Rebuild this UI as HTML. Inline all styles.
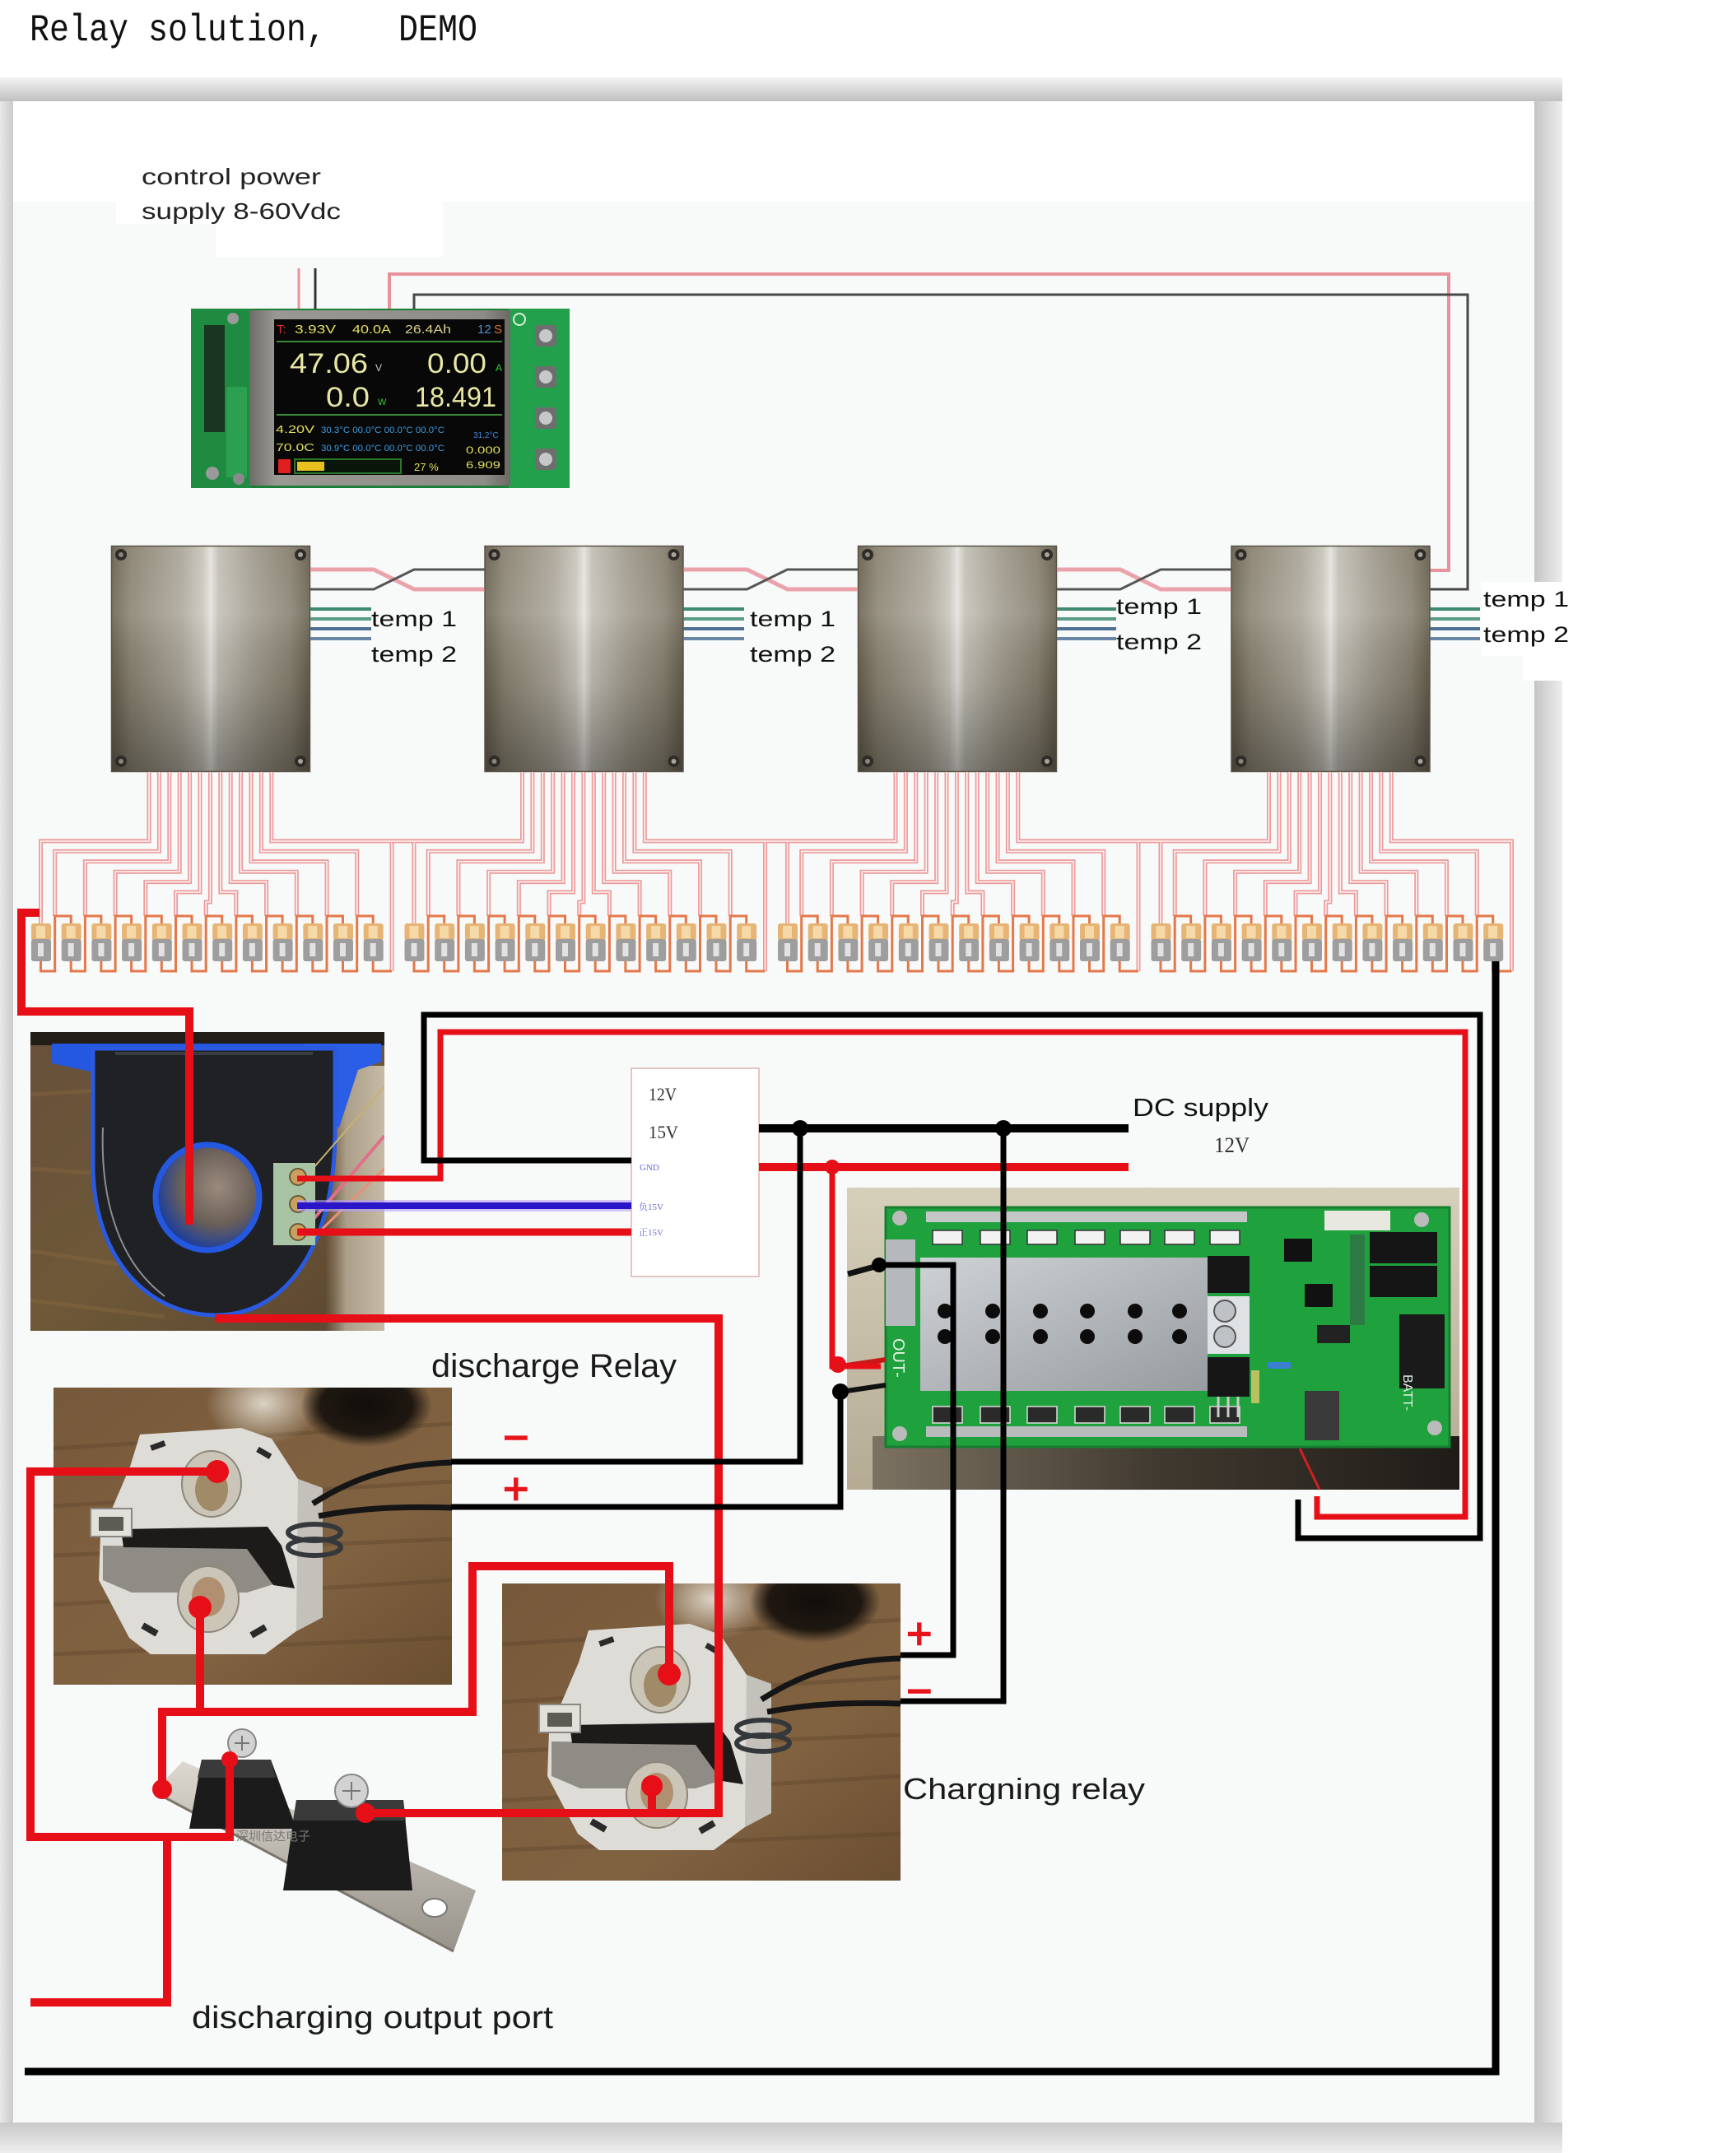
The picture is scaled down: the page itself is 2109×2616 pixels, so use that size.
<!DOCTYPE html>
<html><head><meta charset="utf-8">
<style>
html,body{margin:0;padding:0;background:#fff;}
svg{display:block;}
</style></head><body>
<svg xmlns="http://www.w3.org/2000/svg" xmlns:xlink="http://www.w3.org/1999/xlink" width="2109" height="2616" viewBox="0 0 2109 2616" font-family="Liberation Sans, sans-serif">
<defs>
 <linearGradient id="gTop" x1="0" y1="0" x2="0" y2="1"><stop offset="0" stop-color="#f3f3f3"/><stop offset="1" stop-color="#c0c0c0"/></linearGradient>
 <linearGradient id="gLeft" x1="0" y1="0" x2="1" y2="0"><stop offset="0" stop-color="#e8e8e8"/><stop offset="1" stop-color="#cbcbcb"/></linearGradient>
 <linearGradient id="gRight" x1="0" y1="0" x2="1" y2="0"><stop offset="0" stop-color="#c4c4c4"/><stop offset="1" stop-color="#eeeeee"/></linearGradient>
 <linearGradient id="gBot" x1="0" y1="0" x2="0" y2="1"><stop offset="0" stop-color="#c8c8c8"/><stop offset="1" stop-color="#ededed"/></linearGradient>
 <linearGradient id="metalH" x1="0" y1="0" x2="1" y2="0">
   <stop offset="0" stop-color="#676050"/><stop offset="0.1" stop-color="#8a8372"/><stop offset="0.35" stop-color="#aba699"/><stop offset="0.46" stop-color="#c8c5bc"/><stop offset="0.5" stop-color="#e4e2dc"/><stop offset="0.54" stop-color="#c2bfb6"/><stop offset="0.72" stop-color="#a09b8d"/><stop offset="0.9" stop-color="#878070"/><stop offset="1" stop-color="#655e4e"/>
 </linearGradient>
 <linearGradient id="metalV" x1="0" y1="0" x2="0" y2="1">
   <stop offset="0" stop-color="#fff" stop-opacity="0.05"/><stop offset="0.3" stop-color="#fff" stop-opacity="0.12"/><stop offset="0.6" stop-color="#000" stop-opacity="0.08"/><stop offset="1" stop-color="#000" stop-opacity="0.35"/>
 </linearGradient>
 <linearGradient id="wood" x1="0" y1="0" x2="1" y2="1">
   <stop offset="0" stop-color="#76583a"/><stop offset="0.35" stop-color="#7e6040"/><stop offset="0.65" stop-color="#806241"/><stop offset="1" stop-color="#6a4e30"/>
 </linearGradient>
 <linearGradient id="wood2" x1="0" y1="0" x2="1" y2="1">
   <stop offset="0" stop-color="#67503a"/><stop offset="0.5" stop-color="#6e5838"/><stop offset="1" stop-color="#5a4630"/>
 </linearGradient>
 <linearGradient id="sensR" x1="0" y1="0" x2="1" y2="0">
   <stop offset="0" stop-color="#9a8c74" stop-opacity="0"/><stop offset="0.35" stop-color="#ab9f8a"/><stop offset="1" stop-color="#c6bba6"/>
 </linearGradient>
 <radialGradient id="holeG" cx="0.6" cy="0.4" r="0.6">
   <stop offset="0" stop-color="#9a8a7c"/><stop offset="0.6" stop-color="#6a5f58"/><stop offset="1" stop-color="#1f3f9a"/>
 </radialGradient>
 <radialGradient id="glare" cx="0.5" cy="0.5" r="0.5">
   <stop offset="0" stop-color="#e6e0d4" stop-opacity="0.9"/><stop offset="1" stop-color="#e6e0d4" stop-opacity="0"/>
 </radialGradient>
 <radialGradient id="blob" cx="0.5" cy="0.5" r="0.5">
   <stop offset="0" stop-color="#110d0a"/><stop offset="0.7" stop-color="#1a140f" stop-opacity="0.95"/><stop offset="1" stop-color="#1a140f" stop-opacity="0"/>
 </radialGradient>
 <linearGradient id="beige" x1="0" y1="0" x2="0" y2="1">
   <stop offset="0" stop-color="#d6cfba"/><stop offset="1" stop-color="#b5ab94"/>
 </linearGradient>
 <linearGradient id="pcbSh" x1="0" y1="0" x2="1" y2="0">
   <stop offset="0" stop-color="#7c7262"/><stop offset="0.5" stop-color="#3f382e"/><stop offset="1" stop-color="#1f1c18"/>
 </linearGradient>
 <linearGradient id="heat" x1="0" y1="0" x2="1" y2="1">
   <stop offset="0" stop-color="#cfd2d5"/><stop offset="0.5" stop-color="#b3b7bb"/><stop offset="1" stop-color="#979ca1"/>
 </linearGradient>
 <linearGradient id="frame" x1="0" y1="0" x2="1" y2="0">
   <stop offset="0" stop-color="#6d6b66"/><stop offset="0.1" stop-color="#9a9892"/><stop offset="0.9" stop-color="#8e8c86"/><stop offset="1" stop-color="#6a6863"/>
 </linearGradient>
 <linearGradient id="shuntG" x1="0" y1="0" x2="0" y2="1">
   <stop offset="0" stop-color="#dcd8d0"/><stop offset="1" stop-color="#98938a"/>
 </linearGradient>
 <clipPath id="relClip"><rect x="65" y="1686" width="484" height="361"/></clipPath>
 <clipPath id="sensClip"><rect x="37" y="1254" width="430" height="363"/></clipPath>

 <g id="bms">
   <rect width="242" height="275" fill="url(#metalH)"/>
   <rect width="242" height="275" fill="url(#metalV)"/>
   <rect x="0.5" y="0.5" width="241" height="274" fill="none" stroke="#5a5548" stroke-width="1.5"/>
   <circle cx="12" cy="11" r="7" fill="#2f2c28"/><circle cx="12" cy="11" r="3" fill="#8a857c"/>
   <circle cx="230" cy="11" r="7" fill="#2f2c28"/><circle cx="230" cy="11" r="3" fill="#a9a49a"/>
   <circle cx="12" cy="262" r="7" fill="#2f2c28"/><circle cx="12" cy="262" r="3" fill="#8a857c"/>
   <circle cx="230" cy="262" r="7" fill="#2f2c28"/><circle cx="230" cy="262" r="3" fill="#a9a49a"/>
 </g>

 <g id="cell">
   <rect width="24" height="21" rx="3" fill="#e6b474"/>
   <rect x="6" y="3" width="11" height="15" fill="#f6d9a8"/>
   <rect y="19" width="24" height="27" rx="3" fill="#9e9e9e"/>
   <rect x="8" y="24" width="7" height="16" fill="#e2e2e2"/>
 </g>

 <g id="cellgroup">
   <g fill="none" stroke="#ec9a9a" stroke-width="5">
     <path d="M181,938V1022H49.5V1122"/>
     <path d="M193.4,938V1034.4H66.7V1113"/>
     <path d="M205.8,938V1046.8H103.4V1113"/>
     <path d="M218.2,938V1059.2H140.1V1113"/>
     <path d="M230.6,938V1071.6H176.8V1113"/>
     <path d="M243,938V1084H213.5V1113"/>
     <path d="M255.4,938V1096H250.2V1113"/>
     <path d="M267.8,938V1084H286.9V1113"/>
     <path d="M280.2,938V1071.6H323.6V1113"/>
     <path d="M292.6,938V1059.2H360.3V1113"/>
     <path d="M305,938V1046.8H397V1113"/>
     <path d="M317.4,938V1034.4H433.7V1113"/>
     <path d="M329.8,938V1022H476V1180"/>
   </g>
   <g fill="none" stroke="#fdf4f4" stroke-width="1.6">
     <path d="M181,938V1022H49.5V1122"/>
     <path d="M193.4,938V1034.4H66.7V1113"/>
     <path d="M205.8,938V1046.8H103.4V1113"/>
     <path d="M218.2,938V1059.2H140.1V1113"/>
     <path d="M230.6,938V1071.6H176.8V1113"/>
     <path d="M243,938V1084H213.5V1113"/>
     <path d="M255.4,938V1096H250.2V1113"/>
     <path d="M267.8,938V1084H286.9V1113"/>
     <path d="M280.2,938V1071.6H323.6V1113"/>
     <path d="M292.6,938V1059.2H360.3V1113"/>
     <path d="M305,938V1046.8H397V1113"/>
     <path d="M317.4,938V1034.4H433.7V1113"/>
     <path d="M329.8,938V1022H476V1180"/>
   </g>
   <path fill="none" stroke="#e4784a" stroke-width="3" d="M49.5,1168V1180H66.7V1113H86.2V1122 M86.2,1168V1180H103.4V1113H122.9V1122 M122.9,1168V1180H140.1V1113H159.6V1122 M159.6,1168V1180H176.8V1113H196.3V1122 M196.3,1168V1180H213.5V1113H233V1122 M233,1168V1180H250.2V1113H269.7V1122 M269.7,1168V1180H286.9V1113H306.4V1122 M306.4,1168V1180H323.6V1113H343.1V1122 M343.1,1168V1180H360.3V1113H379.8V1122 M379.8,1168V1180H397V1113H416.5V1122 M416.5,1168V1180H433.7V1113H453.2V1122 M453.2,1168V1180H476"/>
   <use xlink:href="#cell" x="38" y="1122"/>
   <use xlink:href="#cell" x="74.7" y="1122"/>
   <use xlink:href="#cell" x="111.4" y="1122"/>
   <use xlink:href="#cell" x="148.1" y="1122"/>
   <use xlink:href="#cell" x="184.8" y="1122"/>
   <use xlink:href="#cell" x="221.5" y="1122"/>
   <use xlink:href="#cell" x="258.2" y="1122"/>
   <use xlink:href="#cell" x="294.9" y="1122"/>
   <use xlink:href="#cell" x="331.6" y="1122"/>
   <use xlink:href="#cell" x="368.3" y="1122"/>
   <use xlink:href="#cell" x="405" y="1122"/>
   <use xlink:href="#cell" x="441.7" y="1122"/>
 </g>

 <g id="relay">
   <g clip-path="url(#relClip)">
     <rect x="65" y="1686" width="484" height="361" fill="url(#wood)"/>
     <path d="M65,1760 L549,1730 M65,1830 L549,1800 M65,1950 L549,1920 M65,2010 L549,1990 M65,1890 L549,1870" stroke="#5a4128" stroke-width="5" opacity="0.35"/>
     <ellipse cx="320" cy="1705" rx="70" ry="50" fill="url(#glare)"/>
     <ellipse cx="445" cy="1708" rx="80" ry="50" fill="url(#blob)"/>
   </g>
   <polygon points="170,1743 293,1735 330,1748 362,1797 392,1808 392,1965 360,1982 322,2010 183,2010 157,1990 120,1920 122,1866 158,1782" fill="#dedcd7"/>
   <polygon points="362,1797 392,1808 392,1965 360,1982" fill="#c4c1bb"/>
   <polygon points="125,1878 300,1880 332,1925 300,1935 160,1935 125,1920" fill="#8f8c86"/>
   <polygon points="147,1858 325,1855 342,1878 358,1930 332,1926 300,1882 150,1880" fill="#1c1b19"/>
   <rect x="110" y="1833" width="50" height="34" fill="#e2e0db" stroke="#8a8781" stroke-width="2"/>
   <rect x="120" y="1843" width="30" height="17" fill="#5e5b55"/>
   <ellipse cx="257" cy="1803" rx="36" ry="40" fill="#cbc5b8" stroke="#8d877b" stroke-width="2"/>
   <ellipse cx="257" cy="1810" rx="20" ry="26" fill="#a08a68"/>
   <ellipse cx="253" cy="1943" rx="37" ry="40" fill="#cbc5b8" stroke="#8d877b" stroke-width="2"/>
   <ellipse cx="253" cy="1940" rx="20" ry="24" fill="#b09070"/>
   <rect x="183" y="1753" width="18" height="7" fill="#2a2a2a" transform="rotate(-20 192 1757)"/>
   <rect x="312" y="1762" width="18" height="7" fill="#2a2a2a" transform="rotate(30 321 1765)"/>
   <rect x="172" y="1976" width="20" height="8" fill="#2a2a2a" transform="rotate(30 182 1980)"/>
   <rect x="304" y="1978" width="20" height="8" fill="#2a2a2a" transform="rotate(-30 314 1982)"/>
   <g fill="none" stroke="#35383b" stroke-width="6">
     <ellipse cx="382" cy="1862" rx="32" ry="10"/>
     <ellipse cx="382" cy="1880" rx="32" ry="10"/>
   </g>
   <path d="M380,1827 C430,1795 480,1779 549,1777" stroke="#151515" stroke-width="7" fill="none"/>
   <path d="M387,1842 C440,1832 490,1830 549,1832" stroke="#151515" stroke-width="7" fill="none"/>
 </g>
</defs>

<!-- page / panel -->
<rect width="2109" height="2616" fill="#fff"/>
<rect x="0" y="94" width="1898" height="2522" fill="#e8e8e8"/>
<rect x="0" y="94" width="1898" height="29" fill="url(#gTop)"/>
<rect x="0" y="123" width="16" height="2493" fill="url(#gLeft)"/>
<rect x="1864" y="123" width="34" height="2493" fill="url(#gRight)"/>
<rect x="0" y="2579" width="1898" height="37" fill="url(#gBot)"/>
<rect x="16" y="123" width="1848" height="2456" fill="#f8f9f9"/>
<rect x="16" y="123" width="1848" height="122" fill="#fff"/>
<rect x="141" y="187" width="262" height="85" fill="#fff"/>
<rect x="262" y="241" width="276" height="71" fill="#fff"/>
<rect x="1800" y="707" width="110" height="90" fill="#fff"/>
<rect x="1850" y="796" width="60" height="31" fill="#fff"/>

<!-- title -->
<text transform="translate(36,49) scale(1,1.16)" font-family="Liberation Mono, monospace" font-size="40" fill="#111">Relay solution,</text>
<text transform="translate(484,49) scale(1,1.16)" font-family="Liberation Mono, monospace" font-size="40" fill="#111">DEMO</text>

<text x="172" y="224" font-size="28" fill="#222" textLength="218" lengthAdjust="spacingAndGlyphs">control power</text>
<text x="172" y="266" font-size="28" fill="#222" textLength="242" lengthAdjust="spacingAndGlyphs">supply 8-60Vdc</text>

<!-- top control wires -->
<path d="M363,326V377" stroke="#e8939c" stroke-width="3" fill="none"/>
<path d="M383,326V377" stroke="#333" stroke-width="3" fill="none"/>
<path d="M473,377V333H1760V693H1736" stroke="#e8939c" stroke-width="4" fill="none"/>
<path d="M503,377V358H1783V716H1736" stroke="#474747" stroke-width="3" fill="none"/>

<!-- BMS display photo -->
<rect x="232" y="375" width="460" height="218" fill="#1c7e38"/>
<rect x="232" y="375" width="73" height="218" fill="#1f8b40"/>
<rect x="248" y="395" width="25" height="130" fill="#1a1a1a" opacity="0.75"/>
<rect x="275" y="470" width="25" height="110" fill="#2aa050"/>
<circle cx="258" cy="575" r="8" fill="#9a9a9a"/><circle cx="290" cy="582" r="7" fill="#8a8a8a"/><circle cx="283" cy="387" r="7" fill="#9a9a9a"/>
<rect x="618" y="375" width="74" height="218" fill="#23a04c"/>
<rect x="650" y="395" width="26" height="26" rx="4" fill="#6e6e6e"/><circle cx="663" cy="408" r="8" fill="#c8c8c8"/>
<rect x="650" y="445" width="26" height="26" rx="4" fill="#6e6e6e"/><circle cx="663" cy="458" r="8" fill="#c8c8c8"/>
<rect x="650" y="495" width="26" height="26" rx="4" fill="#6e6e6e"/><circle cx="663" cy="508" r="8" fill="#c8c8c8"/>
<rect x="650" y="545" width="26" height="26" rx="4" fill="#6e6e6e"/><circle cx="663" cy="558" r="8" fill="#c8c8c8"/>
<circle cx="631" cy="388" r="7" fill="none" stroke="#d8f0d8" stroke-width="2"/>
<rect x="303" y="377" width="317" height="213" fill="url(#frame)"/>
<rect x="333" y="388" width="280" height="189" fill="#070807"/>
<text x="336" y="405" font-size="15" fill="#e03030">T:</text>
<text x="358" y="405" font-size="15" fill="#e6df5c" textLength="50" lengthAdjust="spacingAndGlyphs">3.93V</text>
<text x="428" y="405" font-size="15" fill="#e6df5c" textLength="47" lengthAdjust="spacingAndGlyphs">40.0A</text>
<text x="492" y="405" font-size="15" fill="#d8d090" textLength="56" lengthAdjust="spacingAndGlyphs">26.4Ah</text>
<text x="580" y="405" font-size="15" fill="#4a90d0">12</text>
<text x="600" y="405" font-size="15" fill="#e07030">S</text>
<path d="M336,415H610 M336,504H610" stroke="#3a8a3a" stroke-width="2"/>
<text x="352" y="453" font-size="34" fill="#e8e6a4" textLength="95" lengthAdjust="spacingAndGlyphs">47.06</text>
<text x="456" y="451" font-size="12" fill="#cccccc">V</text>
<text x="519" y="453" font-size="34" fill="#e8e6a4" textLength="72" lengthAdjust="spacingAndGlyphs">0.00</text>
<text x="602" y="451" font-size="12" fill="#33cc33">A</text>
<text x="396" y="494" font-size="34" fill="#e8e6a4" textLength="53" lengthAdjust="spacingAndGlyphs">0.0</text>
<text x="459" y="492" font-size="11" fill="#33cc33">W</text>
<text x="504" y="494" font-size="34" fill="#e8e6a4" textLength="99" lengthAdjust="spacingAndGlyphs">18.491</text>
<text x="335" y="526" font-size="13" fill="#e6df5c" textLength="47" lengthAdjust="spacingAndGlyphs">4.20V</text>
<text x="390" y="526" font-size="11" fill="#3f9be0" textLength="150" lengthAdjust="spacingAndGlyphs">30.3°C 00.0°C 00.0°C 00.0°C</text>
<text x="335" y="548" font-size="13" fill="#e6df5c" textLength="47" lengthAdjust="spacingAndGlyphs">70.0C</text>
<text x="390" y="548" font-size="11" fill="#3f9be0" textLength="150" lengthAdjust="spacingAndGlyphs">30.9°C 00.0°C 00.0°C 00.0°C</text>
<text x="575" y="532" font-size="10" fill="#3f8be0">31.2°C</text>
<text x="566" y="551" font-size="12" fill="#e6df5c" textLength="42" lengthAdjust="spacingAndGlyphs">0.000</text>
<text x="566" y="569" font-size="12" fill="#e6df5c" textLength="42" lengthAdjust="spacingAndGlyphs">6.909</text>
<rect x="338" y="558" width="15" height="17" fill="#e02020"/>
<rect x="358" y="558" width="129" height="17" fill="#0a150a" stroke="#2a7a2a" stroke-width="2"/>
<rect x="361" y="561" width="33" height="11" fill="#e8c020"/>
<text x="503" y="572" font-size="13" fill="#e6df5c">27 %</text>

<!-- BMS boards -->
<use xlink:href="#bms" x="135" y="663"/>
<use xlink:href="#bms" x="588.5" y="663"/>
<use xlink:href="#bms" x="1042" y="663"/>
<use xlink:href="#bms" x="1495.5" y="663"/>

<!-- inter-board balance wires -->
<g fill="none">
  <path d="M377,692H454L503,716H588.5 M830.5,692H907.5L956.5,716H1042 M1284,692H1361L1410,716H1495.5" stroke="#eba3ab" stroke-width="5"/>
  <path d="M377,716H454L503,692H588.5 M830.5,716H907.5L956.5,692H1042 M1284,716H1361L1410,692H1495.5" stroke="#555" stroke-width="3"/>
</g>

<!-- temp wires -->
<g fill="none" stroke-width="4">
  <path d="M377,740H451 M830.5,740H904 M1284,740H1356 M1737.5,740H1798" stroke="#3f8a70"/>
  <path d="M377,752H451 M830.5,752H904 M1284,752H1356 M1737.5,752H1798" stroke="#5a9a86"/>
  <path d="M377,764H451 M830.5,764H904 M1284,764H1356 M1737.5,764H1798" stroke="#4f6f93"/>
  <path d="M377,776H451 M830.5,776H904 M1284,776H1356 M1737.5,776H1798" stroke="#6a86a6"/>
</g>
<g font-size="27" fill="#111">
  <text x="451" y="761" textLength="104" lengthAdjust="spacingAndGlyphs">temp 1</text>
  <text x="451" y="804" textLength="104" lengthAdjust="spacingAndGlyphs">temp 2</text>
  <text x="911" y="761" textLength="104" lengthAdjust="spacingAndGlyphs">temp 1</text>
  <text x="911" y="804" textLength="104" lengthAdjust="spacingAndGlyphs">temp 2</text>
  <text x="1356" y="746" textLength="104" lengthAdjust="spacingAndGlyphs">temp 1</text>
  <text x="1356" y="789" textLength="104" lengthAdjust="spacingAndGlyphs">temp 2</text>
  <text x="1802" y="737" textLength="104" lengthAdjust="spacingAndGlyphs">temp 1</text>
  <text x="1802" y="780" textLength="104" lengthAdjust="spacingAndGlyphs">temp 2</text>
</g>

<!-- cell groups -->
<use xlink:href="#cellgroup"/>
<use xlink:href="#cellgroup" x="453.5"/>
<use xlink:href="#cellgroup" x="907"/>
<use xlink:href="#cellgroup" x="1360.5"/>
<path d="M476,1022H503 M929.5,1022H956.5 M1383,1022H1410" stroke="#ec9a9a" stroke-width="5" fill="none"/>
<path d="M476,1022H503 M929.5,1022H956.5 M1383,1022H1410" stroke="#fdf4f4" stroke-width="1.6" fill="none"/>

<!-- current sensor photo -->
<g clip-path="url(#sensClip)">
  <rect x="37" y="1254" width="430" height="363" fill="url(#wood2)"/>
  <path d="M37,1330 L200,1320 M37,1420 L180,1430 M37,1520 L170,1540 M37,1580 L200,1600" stroke="#8a6a40" stroke-width="5" opacity="0.4"/>
  <rect x="395" y="1295" width="72" height="322" fill="url(#sensR)"/>
  <rect x="37" y="1254" width="430" height="16" fill="#231d17"/>
  <rect x="63" y="1268" width="400" height="19" fill="#2458e0"/>
  <polygon points="63,1268 140,1268 142,1348 112,1350 110,1302 63,1292" fill="#2458e0"/>
  <polygon points="370,1268 463,1268 463,1290 435,1300 412,1370 372,1362" fill="#2a5ee6"/>
  <circle cx="386" cy="1333" r="9" fill="#8a96b8"/>
  <path d="M113,1274 H407 V1380 C405,1520 345,1598 262,1598 C180,1598 115,1530 113,1420 Z" fill="#1f2125" stroke="#2a5ae0" stroke-width="5"/>
  <path d="M140,1280 H380" stroke="#3a3c42" stroke-width="4"/>
  <path d="M125,1370 C122,1450 140,1530 200,1575" stroke="#d8d8e0" stroke-width="2" fill="none" opacity="0.6"/>
  <ellipse cx="252" cy="1455" rx="63" ry="64" fill="url(#holeG)" stroke="#2458e0" stroke-width="7"/>
  <path d="M365,1500 L467,1380" stroke="#e0708a" stroke-width="4"/>
  <path d="M372,1512 L467,1420" stroke="#e8907a" stroke-width="3"/>
  <path d="M380,1420 L467,1320" stroke="#c8b070" stroke-width="2"/>
  <rect x="332" y="1413" width="51" height="100" fill="#a9c4a4"/>
  <circle cx="362" cy="1430" r="10" fill="#c9a060" stroke="#6a5a3a" stroke-width="2"/>
  <circle cx="362" cy="1463" r="10" fill="#c9a060" stroke="#6a5a3a" stroke-width="2"/>
  <circle cx="362" cy="1497" r="10" fill="#c9a060" stroke="#6a5a3a" stroke-width="2"/>
</g>

<!-- module box -->
<rect x="767" y="1298" width="155" height="253" fill="#fff" stroke="#e6c4c4" stroke-width="2"/>
<text x="788" y="1337" font-family="Liberation Serif, serif" font-size="22" fill="#333" textLength="34" lengthAdjust="spacingAndGlyphs">12V</text>
<text x="788" y="1383" font-family="Liberation Serif, serif" font-size="22" fill="#333" textLength="36" lengthAdjust="spacingAndGlyphs">15V</text>
<text x="777" y="1422" font-family="Liberation Serif, serif" font-size="11" fill="#6a6ad8">GND</text>
<text x="776" y="1470" font-family="Liberation Serif, 'Noto Serif CJK SC', serif" font-size="11" fill="#6a6ad8">负15V</text>
<text x="776" y="1501" font-family="Liberation Serif, 'Noto Serif CJK SC', serif" font-size="11" fill="#6a6ad8">正15V</text>

<!-- green PCB photo -->
<rect x="1029" y="1443" width="744" height="367" fill="url(#beige)"/>
<rect x="1060" y="1745" width="713" height="65" fill="url(#pcbSh)"/>
<rect x="1076" y="1467" width="685" height="291" fill="#1fa13d" stroke="#167f2f" stroke-width="3"/>
<rect x="1125" y="1472" width="390" height="13" fill="#c3c7c8"/>
<rect x="1125" y="1733" width="390" height="13" fill="#b8bcbd"/>
<rect x="1076" y="1506" width="36" height="105" fill="#b5b9bd"/>
<g fill="#f2f2f2" stroke="#333" stroke-width="1.5">
  <rect x="1133" y="1495" width="36" height="17"/><rect x="1191" y="1495" width="36" height="17"/><rect x="1248" y="1495" width="36" height="17"/><rect x="1306" y="1495" width="36" height="17"/><rect x="1361" y="1495" width="36" height="17"/><rect x="1415" y="1495" width="36" height="17"/><rect x="1470" y="1495" width="36" height="17"/>
</g>
<g fill="#2a2a2a" stroke="#ddd" stroke-width="1.5">
  <rect x="1133" y="1709" width="36" height="20"/><rect x="1191" y="1709" width="36" height="20"/><rect x="1248" y="1709" width="36" height="20"/><rect x="1306" y="1709" width="36" height="20"/><rect x="1361" y="1709" width="36" height="20"/><rect x="1415" y="1709" width="36" height="20"/><rect x="1470" y="1709" width="36" height="20"/>
</g>
<rect x="1118" y="1528" width="349" height="162" fill="url(#heat)"/>
<g fill="#0c0c0c">
  <circle cx="1148" cy="1593" r="9"/><circle cx="1206" cy="1593" r="9"/><circle cx="1264" cy="1593" r="9"/><circle cx="1321" cy="1593" r="9"/><circle cx="1379" cy="1593" r="9"/><circle cx="1433" cy="1593" r="9"/>
  <circle cx="1148" cy="1624" r="9"/><circle cx="1206" cy="1624" r="9"/><circle cx="1264" cy="1624" r="9"/><circle cx="1321" cy="1624" r="9"/><circle cx="1379" cy="1624" r="9"/><circle cx="1433" cy="1624" r="9"/>
</g>
<rect x="1467" y="1526" width="51" height="45" fill="#161616"/>
<rect x="1467" y="1575" width="51" height="70" fill="#dfe2e4"/>
<circle cx="1488" cy="1593" r="13" fill="#bfc2c4" stroke="#555" stroke-width="2"/>
<circle cx="1488" cy="1624" r="13" fill="#bfc2c4" stroke="#555" stroke-width="2"/>
<rect x="1467" y="1649" width="51" height="48" fill="#161616"/>
<path d="M1480,1697V1722 M1492,1697V1722 M1504,1697V1722" stroke="#ccc" stroke-width="3"/>
<rect x="1609" y="1471" width="80" height="24" fill="#e8e8e0"/>
<rect x="1560" y="1505" width="34" height="28" fill="#111"/>
<rect x="1585" y="1560" width="34" height="28" fill="#111"/>
<rect x="1664" y="1497" width="82" height="38" fill="#151515"/>
<rect x="1664" y="1538" width="82" height="38" fill="#151515"/>
<rect x="1700" y="1597" width="55" height="90" fill="#1a1a1a"/>
<rect x="1640" y="1500" width="18" height="110" fill="#2e7a45"/>
<rect x="1600" y="1610" width="40" height="22" fill="#222"/>
<rect x="1585" y="1690" width="42" height="60" fill="#3a3a3a"/>
<rect x="1540" y="1655" width="28" height="8" fill="#3a80d0"/>
<rect x="1520" y="1665" width="10" height="40" fill="#b8c060"/>
<circle cx="1093" cy="1480" r="9" fill="#bbb"/><circle cx="1727" cy="1482" r="9" fill="#bbb"/><circle cx="1093" cy="1742" r="9" fill="#bbb"/><circle cx="1743" cy="1735" r="9" fill="#bbb"/>
<text transform="translate(1085,1626) rotate(90)" font-size="20" fill="#e6f2e6">OUT-</text>
<text transform="translate(1705,1670) rotate(90)" font-size="16" fill="#e6f2e6">BATT-</text>
<path d="M1579,1760 L1603,1810" stroke="#d02020" stroke-width="3"/>
<path d="M1030,1548 L1070,1537" stroke="#111" stroke-width="7"/>
<path d="M1022,1660 L1076,1652" stroke="#c81818" stroke-width="6"/>
<path d="M1022,1691 L1076,1683" stroke="#111" stroke-width="6"/>

<!-- relays -->
<use xlink:href="#relay"/>
<use xlink:href="#relay" transform="translate(545,238)"/>

<!-- shunt -->
<polygon points="222,2140 578,2297 551,2371 187,2177" fill="url(#shuntG)"/>
<path d="M187,2177 L551,2371" stroke="#7a766e" stroke-width="3"/>
<ellipse cx="528" cy="2318" rx="15" ry="11" fill="#fff" stroke="#777" stroke-width="2"/>
<polygon points="245,2138 329,2138 360,2222 230,2222" fill="#1b1b1b"/>
<polygon points="245,2138 329,2138 335,2160 240,2160" fill="#3a3a3a"/>
<polygon points="360,2187 490,2187 501,2297 344,2297" fill="#1b1b1b"/>
<polygon points="360,2187 490,2187 493,2212 356,2212" fill="#3a3a3a"/>
<circle cx="294" cy="2118" r="17" fill="#d2d2d2" stroke="#888" stroke-width="2"/>
<path d="M285,2118H303 M294,2109V2127" stroke="#777" stroke-width="2"/>
<circle cx="427" cy="2176" r="20" fill="#d2d2d2" stroke="#888" stroke-width="2"/>
<path d="M416,2176H438 M427,2165V2187" stroke="#777" stroke-width="2"/>
<text x="287" y="2236" font-family="Liberation Sans, 'Noto Sans CJK SC', sans-serif" font-size="15" fill="#777">深圳信达电子</text>

<!-- thick red wires -->
<g fill="none" stroke="#e60f17" stroke-linejoin="miter">
  <path d="M48,1109H26V1229H230V1488" stroke-width="10"/>
  <path d="M361,1432H535V1254H1780V1843H1600V1818" stroke-width="7"/>
  <path d="M361,1497H767" stroke-width="9"/>
  <path d="M922,1418H1371" stroke-width="10"/>
  <path d="M1011,1418V1660H1070" stroke-width="7"/>
  <path d="M261,1602H873V2203H444" stroke-width="10"/>
  <path d="M264,1788H37V2232H279V2138" stroke-width="10"/>
  <path d="M203,2232V2433H37" stroke-width="10"/>
  <path d="M243,1953V2080" stroke-width="10"/>
  <path d="M197,2174V2080H574V1903H813V2034" stroke-width="10"/>
  <path d="M792,2170V2203" stroke-width="10"/>
</g>
<path d="M361,1465H767" stroke="#b8a0ff" stroke-width="14" opacity="0.6"/>
<path d="M361,1465H767" stroke="#2a16c8" stroke-width="8"/>
<g fill="#e60f17">
  <circle cx="1011" cy="1418" r="9"/><circle cx="1018" cy="1658" r="10"/>
  <circle cx="264" cy="1788" r="14"/><circle cx="243" cy="1953" r="14"/><circle cx="197" cy="2174" r="12"/>
  <circle cx="279" cy="2138" r="10"/><circle cx="444" cy="2203" r="12"/><circle cx="813" cy="2034" r="14"/><circle cx="792" cy="2170" r="13"/>
</g>

<!-- black wires -->
<g fill="none" stroke="#000" stroke-linejoin="miter">
  <path d="M767,1410H515V1233H1798V1869H1577V1822" stroke-width="7"/>
  <path d="M922,1371H1371" stroke-width="10"/>
  <path d="M972,1371V1776H548" stroke-width="7"/>
  <path d="M1021,1691V1831H548" stroke-width="7"/>
  <path d="M1219,1371V2067H1094" stroke-width="7"/>
  <path d="M1068,1537H1158V2011H1094" stroke-width="7"/>
  <path d="M1817,1168V2517H30" stroke-width="9"/>
</g>
<g fill="#000">
  <circle cx="972" cy="1371" r="10"/><circle cx="1219" cy="1371" r="10"/><circle cx="1021" cy="1691" r="10"/><circle cx="1068" cy="1537" r="9"/>
</g>

<!-- labels -->
<text x="1376" y="1356" font-size="31" fill="#111" textLength="165" lengthAdjust="spacingAndGlyphs">DC supply</text>
<text x="1475" y="1400" font-family="Liberation Serif, serif" font-size="26" fill="#333" textLength="43" lengthAdjust="spacingAndGlyphs">12V</text>
<text x="524" y="1673" font-size="40" fill="#1a1a1a" textLength="298" lengthAdjust="spacingAndGlyphs">discharge Relay</text>
<text x="1097" y="2186" font-size="36" fill="#1a1a1a" textLength="294" lengthAdjust="spacingAndGlyphs">Chargning relay</text>
<text x="233" y="2464" font-size="38" fill="#1a1a1a" textLength="439" lengthAdjust="spacingAndGlyphs">discharging output port</text>
<g font-size="54" fill="#e8141c" stroke="#e8141c" stroke-width="1.5">
  <text x="611" y="1765">−</text>
  <text x="611" y="1827">+</text>
  <text x="1101" y="2003">+</text>
  <text x="1101" y="2073">−</text>
</g>
</svg>
</body></html>
